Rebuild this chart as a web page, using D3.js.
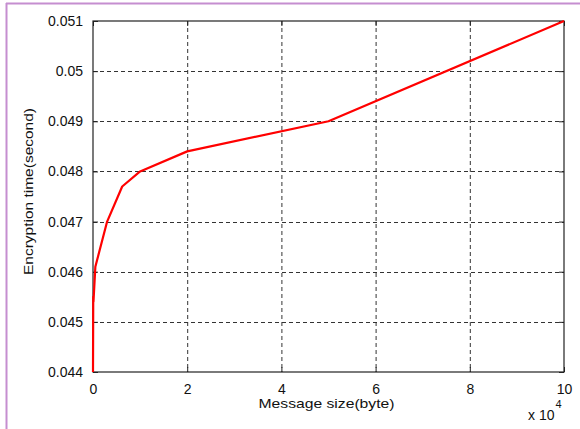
<!DOCTYPE html>
<html lang="en">
<head>
<meta charset="UTF-8">
<title>Encryption time</title>
<script src="https://cdn.jsdelivr.net/npm/d3@7/dist/d3.min.js"></script>
<style>
  body { margin: 0; background: #fff; }
  text { font-family: "Liberation Sans", Arial, sans-serif; fill: #111; }
</style>
</head>
<body>
<svg id="chart" width="580" height="429"></svg>
<script>
// data
let sizes = [0, 50, 100, 500, 3000, 6200, 10000, 20000, 50000, 100000];
let times = [0.044, 0.0455, 0.0454, 0.0461, 0.047, 0.0477, 0.048, 0.0484, 0.049, 0.051];
let xTicks = [0, 20000, 40000, 60000, 80000, 100000];
let yTicks = [0.044, 0.045, 0.046, 0.047, 0.048, 0.049, 0.05, 0.051];

let svg = d3.select('svg#chart');
let m = {left: 93, right: 564, top: 21, bottom: 372};

// purple frame (top and left only)
svg.append('line').attr('x1', 6).attr('x2', 580).attr('y1', 3.5).attr('y2', 3.5)
    .attr('stroke', '#c58ed0').attr('stroke-width', 2);
svg.append('line').attr('x1', 6.5).attr('x2', 6.5).attr('y1', 3).attr('y2', 429)
    .attr('stroke', '#c58ed0').attr('stroke-width', 2);

let x = d3.scaleLinear().domain([0, 100000]).range([m.left, m.right]);
let y = d3.scaleLinear().domain([0.044, 0.051]).range([m.bottom, m.top]);

// grid
svg.append('g').selectAll('line').data(xTicks.slice(1, -1)).enter().append('line')
    .attr('x1', d => x(d) + 0.5).attr('x2', d => x(d) + 0.5)
    .attr('y1', m.top).attr('y2', m.bottom)
    .attr('stroke', '#333').attr('stroke-dasharray', '4,3');
svg.append('g').selectAll('line').data(yTicks.slice(1, -1)).enter().append('line')
    .attr('y1', d => Math.round(y(d)) + 0.5).attr('y2', d => Math.round(y(d)) + 0.5)
    .attr('x1', m.left).attr('x2', m.right)
    .attr('stroke', '#333').attr('stroke-dasharray', '4,3');

// axes (MATLAB style box with inner ticks)
let fmtY = d => d3.format('')(+d.toFixed(3));
svg.append('g').attr('transform', `translate(0,${m.bottom})`)
    .call(d3.axisBottom(x).tickValues(xTicks).tickSize(-5).tickPadding(12).tickFormat(d => d / 10000))
    .call(g => g.select('.domain').remove());
svg.append('g').attr('transform', `translate(0,${m.top})`)
    .call(d3.axisTop(x).tickValues(xTicks).tickSize(-5).tickFormat(''))
    .call(g => g.select('.domain').remove());
svg.append('g').attr('transform', `translate(${m.left},0)`)
    .call(d3.axisLeft(y).tickValues(yTicks).tickSize(-5).tickPadding(10).tickFormat(fmtY))
    .call(g => g.select('.domain').remove());
svg.append('g').attr('transform', `translate(${m.right},0)`)
    .call(d3.axisRight(y).tickValues(yTicks).tickSize(-5).tickFormat(''))
    .call(g => g.select('.domain').remove());
svg.selectAll('.tick line').attr('stroke', '#222');
svg.selectAll('.tick text').attr('font-size', 14).attr('font-family', '"Liberation Sans", Arial, sans-serif').attr('fill', '#111');

svg.append('rect').attr('x', m.left).attr('y', m.top)
    .attr('width', m.right - m.left).attr('height', m.bottom - m.top)
    .attr('fill', 'none').attr('stroke', '#222').attr('stroke-width', 1.2);

// line
let line = d3.line().x((d, i) => x(sizes[i])).y(d => y(d));
svg.append('path').datum(times).attr('d', line)
    .attr('fill', 'none').attr('stroke', '#ff0000').attr('stroke-width', 2.2)
    .attr('stroke-linejoin', 'round');

// labels
svg.append('text').attr('x', 326.5).attr('y', 408).attr('text-anchor', 'middle')
    .attr('font-size', 13.5).attr('textLength', 136).attr('lengthAdjust', 'spacingAndGlyphs')
    .text('Message size(byte)');
svg.append('text').attr('transform', 'translate(33,191.5) rotate(-90)').attr('text-anchor', 'middle')
    .attr('font-size', 13).attr('textLength', 167).attr('lengthAdjust', 'spacingAndGlyphs')
    .text('Encryption time(second)');
let ex = svg.append('text').attr('x', 528).attr('y', 420).attr('font-size', 14);
ex.append('tspan').text('x 10');
ex.append('tspan').attr('dy', -12).attr('dx', 1).attr('font-size', 11).text('4');
</script>
</body>
</html>
